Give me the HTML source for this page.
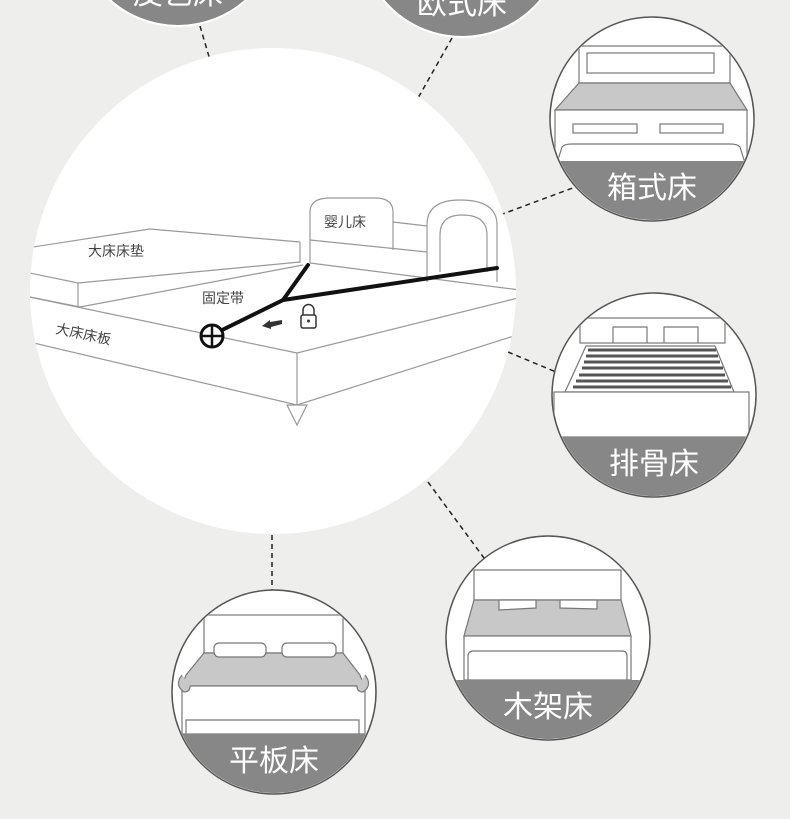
<!DOCTYPE html>
<html><head><meta charset="utf-8"><style>
html,body{margin:0;padding:0;background:#eeeeec;}
svg{display:block;}
text{font-family:"Liberation Sans","Noto Sans CJK SC",sans-serif;}
</style></head><body>
<svg width="790" height="819" viewBox="0 0 790 819" xmlns="http://www.w3.org/2000/svg">
<defs>
<clipPath id="c"><circle cx="0" cy="0" r="101"/></clipPath>
<clipPath id="big"><circle cx="273" cy="291" r="243"/></clipPath>
</defs>
<rect width="790" height="819" fill="#eeeeec"/>

<!-- dashed connectors -->
<g stroke="#222" stroke-width="1.5" stroke-dasharray="5,4" fill="none">
<line x1="200" y1="26" x2="210" y2="60"/>
<line x1="452" y1="38" x2="418" y2="98"/>
<line x1="500" y1="215" x2="578" y2="186"/>
<line x1="508" y1="352" x2="556" y2="372"/>
<line x1="428" y1="482" x2="484" y2="558"/>
<line x1="272" y1="535" x2="272" y2="590"/>
</g>

<!-- big circle -->
<circle cx="273" cy="291" r="243" fill="#fff"/>
<g clip-path="url(#big)" stroke="#999" stroke-width="1.2" fill="none">
<!-- mattress -->
<polyline points="20,249 150,229 300,242"/>
<polyline points="20,271 78,283 300,262"/>
<polyline points="20,295 80,307 303,265"/>
<line x1="78" y1="283" x2="78" y2="307"/>
<line x1="300" y1="242" x2="300" y2="263"/>
<!-- board -->
<polyline points="20,295 297,353 530,295"/>
<polyline points="25,341 297,405 520,334"/>
<line x1="297" y1="353" x2="297" y2="405"/>
<polygon points="287,405 307,405 297,425"/>
<!-- crib -->
<path d="M310,263 L310,212 Q310,198 330,198 L375,198 Q393,198 393,212 L393,250"/>
<polyline points="393,222 427,226"/>
<line x1="310" y1="240" x2="427" y2="252"/>
<path d="M427,282 L427,225 Q427,200 460,200 Q497,200 497,225 L497,282"/>
<path d="M440,272 L440,235 Q440,215 462,215 Q487,215 487,235 L487,272"/>
<polyline points="310,263 520,290"/>
</g>
<!-- strap -->
<g stroke="#111" stroke-width="4" fill="none" stroke-linecap="round">
<polyline points="308,265 283,300 212,335"/>
<line x1="283" y1="300" x2="497" y2="268"/>
</g>
<circle cx="212" cy="336" r="11" fill="#fff" stroke="#111" stroke-width="3"/>
<line x1="201" y1="336" x2="223" y2="336" stroke="#111" stroke-width="2.5"/>
<line x1="212" y1="325" x2="212" y2="347" stroke="#111" stroke-width="2.5"/>
<polygon points="262,326 270,320 270,322 282,320 282,324 271,327 271,329" fill="#333"/>
<rect x="301" y="315" width="15" height="13" rx="2" fill="#fff" stroke="#333" stroke-width="1.5"/>
<path d="M303,315 v-5 a5.5,5.5 0 0 1 11,0 v5" fill="none" stroke="#333" stroke-width="1.5"/>
<circle cx="308.5" cy="321" r="1.5" fill="#333"/>
<g fill="#444" font-size="14">
<text x="88" y="256">大床床垫</text>
<text x="324" y="227">婴儿床</text>
<text x="202" y="303">固定带</text>
<text x="55" y="333" transform="rotate(12 55 333)">大床床板</text>
</g>

<!-- top partial circles -->
<g transform="translate(178,-76)">
<circle r="102" fill="#878787" stroke="#fff" stroke-width="2"/>
<text x="0" y="80" text-anchor="middle" fill="#fff" font-size="30">皮艺床</text>
</g>
<g transform="translate(462,-65)">
<circle r="102" fill="#878787" stroke="#fff" stroke-width="2"/>
<text x="0" y="79" text-anchor="middle" fill="#fff" font-size="30">欧式床</text>
</g>

<!-- 箱式床 -->
<g transform="translate(652,119)">
<circle r="102" fill="#fff"/>
<g clip-path="url(#c)" stroke="#777" stroke-width="1.2">
<rect x="-73" y="-73" width="151" height="37" fill="#fff"/>
<rect x="-65" y="-66" width="127" height="20" fill="#fff"/>
<polygon points="-73,-36 78,-36 95,-9 -97,-9" fill="#c8c8c8"/>
<rect x="-97" y="-9" width="192" height="53" fill="#fff"/>
<rect x="-79" y="5" width="64" height="9" fill="#fff"/>
<rect x="8" y="5" width="63" height="9" fill="#fff"/>
<path d="M-95,44 L-90,28 Q-88,25 -80,25 L78,25 Q86,25 88,28 L93,44" fill="none"/>
<rect x="-110" y="42" width="220" height="70" fill="#878787" stroke="none"/>
</g>
<circle r="102" fill="none" stroke="#555" stroke-width="1.5"/>
<text x="0" y="79" text-anchor="middle" fill="#fff" font-size="30">箱式床</text>
</g>

<!-- 排骨床 -->
<g transform="translate(654,395)">
<circle r="102" fill="#fff"/>
<g clip-path="url(#c)" stroke="#777" stroke-width="1.2">
<rect x="-74" y="-77" width="145" height="25" fill="#fff"/>
<polyline points="-41,-52 -41,-68 -7,-68 -7,-52" fill="none"/>
<polyline points="10,-52 10,-68 44,-68 44,-52" fill="none"/>
<polygon points="-68,-49 61,-49 80,-3 -89,-3" fill="#fff"/>
<g stroke="#555" stroke-width="3">
<line x1="-66" y1="-45" x2="62" y2="-45"/>
<line x1="-68" y1="-39" x2="64" y2="-39"/>
<line x1="-70" y1="-33" x2="66" y2="-33"/>
<line x1="-72" y1="-27" x2="69" y2="-27"/>
<line x1="-75" y1="-20" x2="71" y2="-20"/>
<line x1="-78" y1="-14" x2="74" y2="-14"/>
<line x1="-81" y1="-8" x2="77" y2="-8"/>
</g>
<rect x="-100" y="-3" width="195" height="45" fill="#fff"/>
<rect x="-110" y="42" width="220" height="70" fill="#878787" stroke="none"/>
</g>
<circle r="102" fill="none" stroke="#555" stroke-width="1.5"/>
<text x="0" y="79" text-anchor="middle" fill="#fff" font-size="30">排骨床</text>
</g>

<!-- 木架床 -->
<g transform="translate(548,638)">
<circle r="102" fill="#fff"/>
<g clip-path="url(#c)" stroke="#777" stroke-width="1.2">
<rect x="-74" y="-68" width="147" height="30" fill="#fff"/>
<polygon points="-74,-38 73,-38 83,-2 -84,-2" fill="#c8c8c8"/>
<path d="M-49,-38 L-12,-38 L-12,-30 L-49,-28 Z" fill="#fff"/>
<path d="M12,-38 L49,-38 L49,-29 L12,-30 Z" fill="#fff"/>
<rect x="-84" y="-2" width="167" height="44" fill="#fff"/>
<path d="M-80,42 L-80,18 Q-80,13 -74,13 L74,13 Q79,13 79,18 L79,42" fill="none"/>
<rect x="-110" y="42" width="220" height="70" fill="#878787" stroke="none"/>
</g>
<circle r="102" fill="none" stroke="#555" stroke-width="1.5"/>
<text x="0" y="79" text-anchor="middle" fill="#fff" font-size="30">木架床</text>
</g>

<!-- 平板床 -->
<g transform="translate(274,692)">
<circle r="102" fill="#fff"/>
<g clip-path="url(#c)" stroke="#777" stroke-width="1.2">
<rect x="-70" y="-77" width="139" height="38" fill="#fff"/>
<polygon points="-70,-39 69,-39 86,-17 90,-6 -92,-6 -88,-17" fill="#c8c8c8"/>
<rect x="-60" y="-49" width="52" height="14" rx="5" fill="#fff"/>
<rect x="8" y="-49" width="54" height="14" rx="5" fill="#fff"/>
<rect x="-92" y="-6" width="183" height="48" fill="#fff"/>
<path d="M-92,-17 q-8,10 2,17 q6,0 6,-6" fill="#c8c8c8"/>
<path d="M91,-17 q8,10 -2,17 q-6,0 -6,-6" fill="#c8c8c8"/>
<polyline points="-88,42 -88,28 85,28 85,42" fill="none"/>
<rect x="-110" y="42" width="220" height="70" fill="#878787" stroke="none"/>
</g>
<circle r="102" fill="none" stroke="#555" stroke-width="1.5"/>
<text x="0" y="79" text-anchor="middle" fill="#fff" font-size="30">平板床</text>
</g>
</svg>
</body></html>
